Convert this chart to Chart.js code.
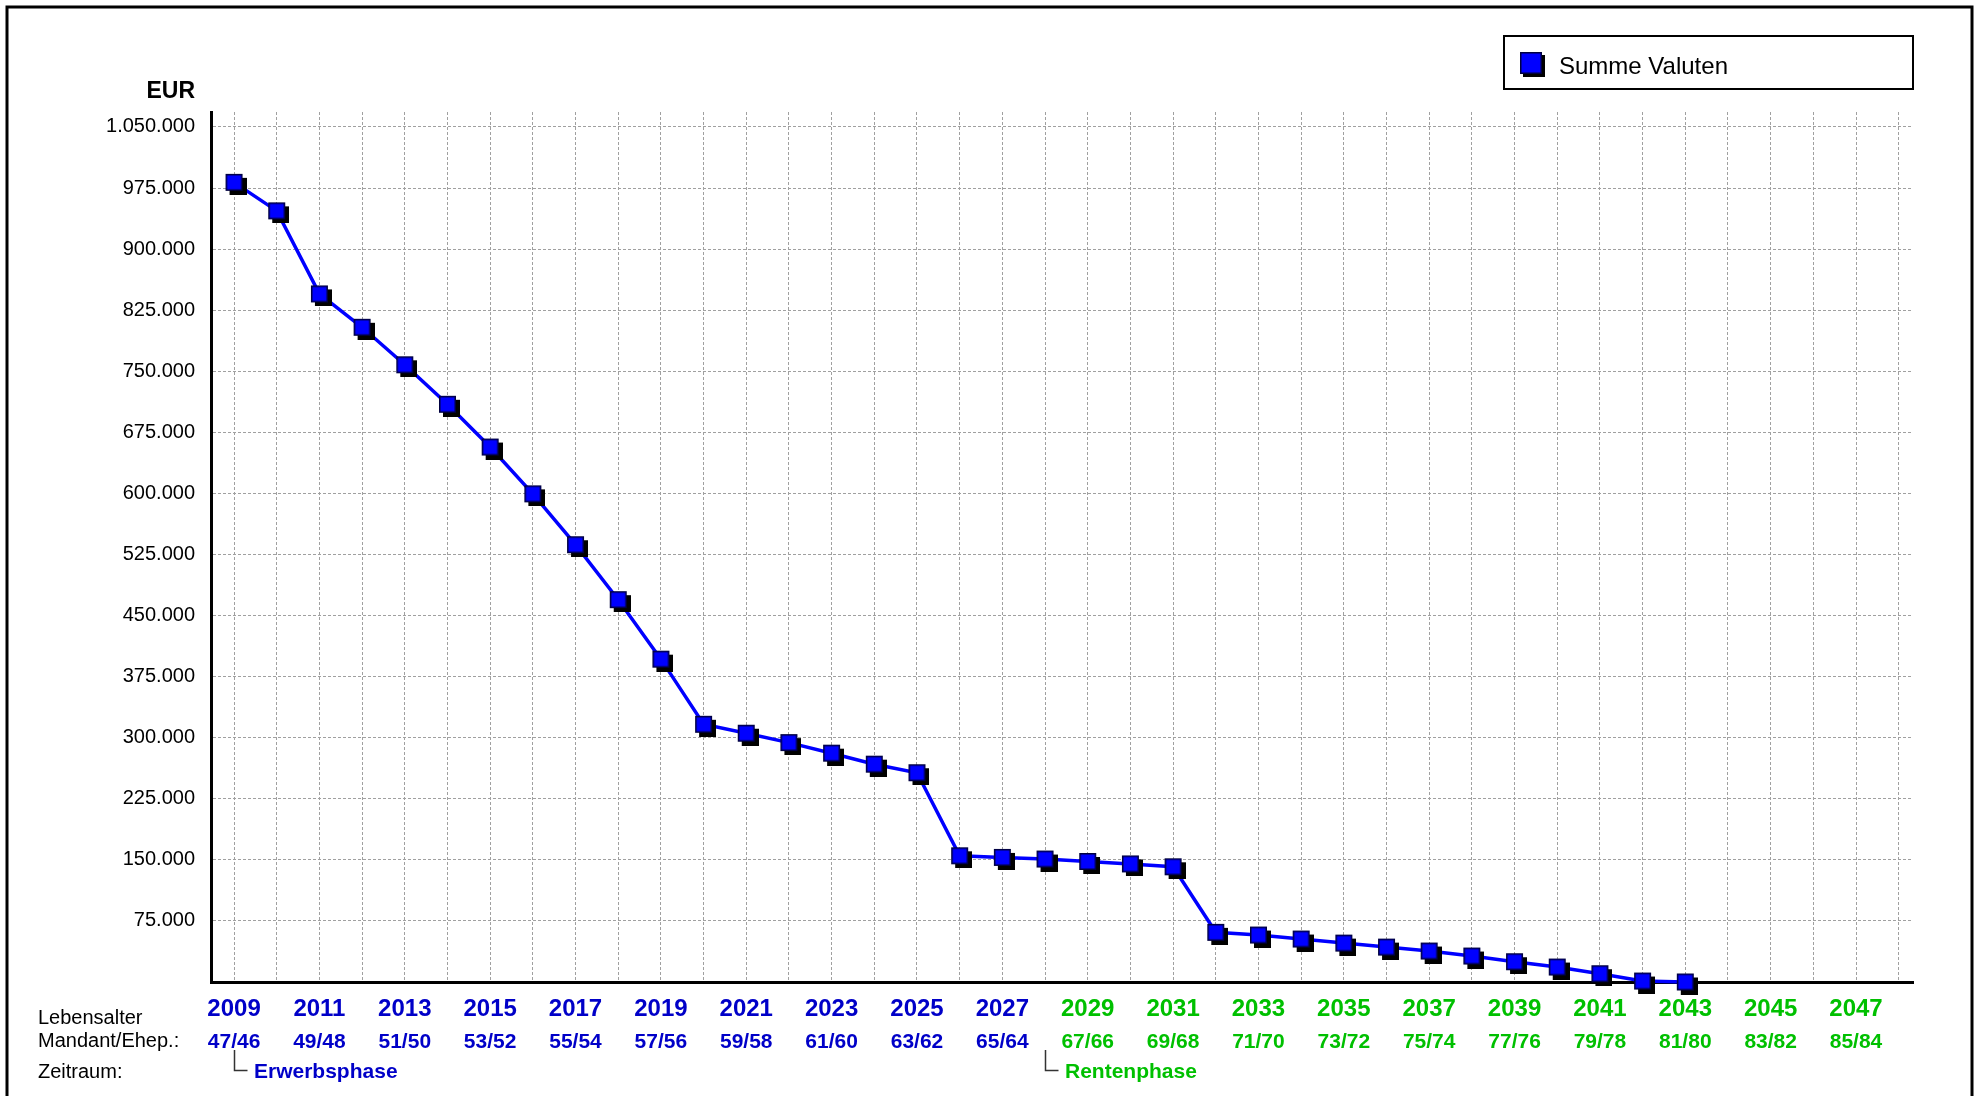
<!DOCTYPE html>
<html>
<head>
<meta charset="utf-8">
<title>Summe Valuten</title>
<script src="https://cdn.jsdelivr.net/npm/chart.js@4.4.1/dist/chart.umd.min.js"></script>
<style>
    html, body { margin: 0; padding: 0; background: #fff; }
    canvas { display: block; }
</style>
</head>
<body>
<canvas id="chart" width="1978" height="1096"></canvas>
<script>
// Jahresspalten (je eine Gitterlinie).
var years = [2009, 2010, 2011, 2012, 2013, 2014, 2015, 2016, 2017, 2018,
    2019, 2020, 2021, 2022, 2023, 2024, 2025, 2026, 2027, 2028,
    2029, 2030, 2031, 2032, 2033, 2034, 2035, 2036, 2037, 2038,
    2039, 2040, 2041, 2042, 2043, 2044, 2045, 2046, 2047, 2048];

// Summe Valuten in EUR, 2009 bis 2043.
var valuten = [982000, 947000, 845000, 804000, 758000, 709500, 657000, 599500, 537000, 469500,
    396500, 316500, 305500, 294000, 281000, 267500, 257000, 155000, 153000, 151000,
    148000, 145000, 141500, 61000, 57700, 52800, 47800, 42900, 38000, 31900,
    24900, 18400, 10200, 1200, 0];

// Beschriftete Jahre und Lebensalter Mandant/Ehepartner.
var labelYears = [2009, 2011, 2013, 2015, 2017, 2019, 2021, 2023, 2025, 2027,
    2029, 2031, 2033, 2035, 2037, 2039, 2041, 2043, 2045, 2047];
var ages = ['47/46', '49/48', '51/50', '53/52', '55/54', '57/56', '59/58', '61/60', '63/62', '65/64',
    '67/66', '69/68', '71/70', '73/72', '75/74', '77/76', '79/78', '81/80', '83/82', '85/84'];

var yTicks = [75000, 150000, 225000, 300000, 375000, 450000, 525000,
    600000, 675000, 750000, 825000, 900000, 975000, 1050000];

// Zeitraum: Phasen und ihr Startjahr.
var phaseNames = ['Erwerbsphase', 'Rentenphase'];
var phaseStarts = [2009, 2028];

var FONT = '"Liberation Sans", Arial, Helvetica, sans-serif';
var BLUE_TEXT = '#0000c8';
var GREEN_TEXT = '#00c000';

function formatDe(v) {
    return String(v).replace(/\B(?=(\d{3})+(?!\d))/g, '.');
}

// Blaues Quadrat mit schwarzem Schatten als Punktsymbol.
function makeMarker(size, off) {
    var c = document.createElement('canvas');
    var w = size + 2 * off;
    c.width = w;
    c.height = w;
    var g = c.getContext('2d');
    g.fillStyle = '#000';
    g.fillRect(2 * off, 2 * off, size, size);
    g.fillStyle = '#0000ff';
    g.fillRect(off, off, size, size);
    g.strokeStyle = '#000040';
    g.lineWidth = 1.5;
    g.strokeRect(off + 0.75, off + 0.75, size - 1.5, size - 1.5);
    return c;
}

var pointMarker = makeMarker(17, 4);
var legendMarker = makeMarker(22, 3);

var decorPlugin = {
    id: 'decor',
    afterDraw: function(chart) {
        var ctx = chart.ctx;
        var area = chart.chartArea;
        var x = chart.scales.x;
        var rentenStart = phaseStarts[1];

        ctx.save();

        // Rahmen um das ganze Bild.
        ctx.strokeStyle = '#000';
        ctx.lineWidth = 3;
        ctx.strokeRect(7, 7, 1965, 1110);

        // Einheit.
        ctx.fillStyle = '#000';
        ctx.textBaseline = 'alphabetic';
        ctx.textAlign = 'right';
        ctx.font = 'bold 23px ' + FONT;
        ctx.fillText('EUR', area.left - 16, area.top - 14);

        // Zeilentitel unter der x-Achse.
        ctx.textAlign = 'left';
        ctx.font = '20px ' + FONT;
        ctx.fillText('Lebensalter', 38, area.bottom + 42);
        ctx.fillText('Mandant/Ehep.:', 38, area.bottom + 65);
        ctx.fillText('Zeitraum:', 38, area.bottom + 96);

        // Jahre und Lebensalter.
        ctx.textAlign = 'center';
        labelYears.forEach(function(yr, i) {
            var px = x.getPixelForValue(yr);
            ctx.fillStyle = yr >= rentenStart ? GREEN_TEXT : BLUE_TEXT;
            ctx.font = 'bold 24px ' + FONT;
            ctx.fillText(String(yr), px, area.bottom + 34);
            ctx.font = 'bold 21px ' + FONT;
            ctx.fillText(ages[i], px, area.bottom + 66);
        });

        // Phasen mit Winkel.
        ctx.textAlign = 'left';
        ctx.font = 'bold 21px ' + FONT;
        phaseNames.forEach(function(name, i) {
            var px = Math.round(x.getPixelForValue(phaseStarts[i])) + 0.5;
            var yTop = area.bottom + 68;
            var yBot = area.bottom + 88.5;
            ctx.strokeStyle = '#333';
            ctx.lineWidth = 1.5;
            ctx.beginPath();
            ctx.moveTo(px, yTop);
            ctx.lineTo(px, yBot);
            ctx.lineTo(px + 13, yBot);
            ctx.stroke();
            ctx.fillStyle = phaseStarts[i] >= rentenStart ? GREEN_TEXT : BLUE_TEXT;
            ctx.fillText(name, px + 19.5, area.bottom + 96);
        });

        // Legende.
        ctx.fillStyle = '#fff';
        ctx.fillRect(1504, 36, 409, 53);
        ctx.strokeStyle = '#000';
        ctx.lineWidth = 2;
        ctx.strokeRect(1504, 36, 409, 53);
        ctx.drawImage(legendMarker, 1517, 49);
        ctx.fillStyle = '#000';
        ctx.font = '24px ' + FONT;
        ctx.fillText(chart.data.datasets[0].label, 1559, 74);

        ctx.restore();
    }
};

new Chart(document.getElementById('chart'), {
    type: 'line',
    data: {
        datasets: [{
            label: 'Summe Valuten',
            data: valuten.map(function(v, i) {
                return {x: years[i], y: v};
            }),
            borderColor: '#0000ff',
            borderWidth: 3.5,
            tension: 0,
            fill: false,
            pointStyle: pointMarker,
            pointRadius: 8,
            pointHoverRadius: 8,
            clip: false
        }]
    },
    options: {
        responsive: false,
        animation: false,
        devicePixelRatio: 1,
        layout: {
            padding: {left: 91, right: 65, top: 112, bottom: 104}
        },
        scales: {
            x: {
                type: 'linear',
                min: 2008.46,
                max: 2048.335,
                afterBuildTicks: function(scale) {
                    scale.ticks = years.map(function(v) {
                        return {value: v};
                    });
                },
                afterFit: function(scale) {
                    scale.height = 10;
                },
                ticks: {display: false},
                grid: {color: '#a0a0a0', lineWidth: 1, drawTicks: false},
                border: {display: true, color: '#000', width: 3, dash: [3, 2]}
            },
            y: {
                type: 'linear',
                min: 0,
                max: 1068400,
                afterBuildTicks: function(scale) {
                    scale.ticks = yTicks.map(function(v) {
                        return {value: v};
                    });
                },
                afterFit: function(scale) {
                    scale.width = 120;
                },
                ticks: {
                    padding: 16,
                    color: '#000',
                    font: {family: FONT, size: 20},
                    callback: function(v) {
                        return formatDe(v);
                    }
                },
                grid: {color: '#a0a0a0', lineWidth: 1, drawTicks: false},
                border: {display: true, color: '#000', width: 3, dash: [3, 2]}
            }
        },
        plugins: {
            legend: {display: false},
            tooltip: {enabled: false}
        }
    },
    plugins: [decorPlugin]
});
</script>
</body>
</html>
